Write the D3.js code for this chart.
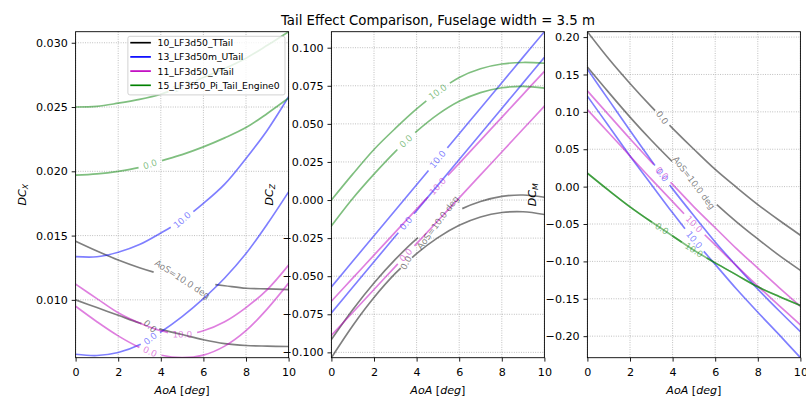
<!DOCTYPE html>
<html>
<head>
<meta charset="utf-8">
<script src="https://cdn.jsdelivr.net/npm/d3@7"></script>
<style>
  body { margin: 0; background: #fff; }
  svg { display: block; }
  text { font-family: "DejaVu Sans", sans-serif; }
</style>
</head>
<body>
<svg id="chart" width="806" height="396"></svg>
<script>
// ---------------- data ----------------
const aoa = [0, 1, 2, 3, 4, 5, 6, 7, 8, 9, 10];
const configs = ["10_LF3d50_TTail", "13_LF3d50m_UTail", "11_LF3d50_VTail", "15_LF3f50_Pi_Tail_Engine0"];
const aosLevels = [0, 10];
const levelLabels = [["0.0", "AoS=10.0 deg"], ["0.0", "10.0"], ["0.0", "10.0"], ["0.0", "10.0"]];
const xTicks = [0, 2, 4, 6, 8, 10];

// DCx
const dcx_TTail_aos0  = [0.0100, 0.0094, 0.0088, 0.0082, 0.0077, 0.0073, 0.0069, 0.0066, 0.00645, 0.0064, 0.00637];
const dcx_TTail_aos10 = [0.01456, 0.0138, 0.0131, 0.0125, 0.0120, 0.0116, 0.0113, 0.0111, 0.0109, 0.01085, 0.0108];
const dcx_UTail_aos0  = [0.00577, 0.00567, 0.0059, 0.0065, 0.0075, 0.0087, 0.0101, 0.0117, 0.0136, 0.0159, 0.0184];
const dcx_UTail_aos10 = [0.01336, 0.01335, 0.0137, 0.0143, 0.0152, 0.0162, 0.0175, 0.0190, 0.0210, 0.0232, 0.0258];
const dcx_VTail_aos0  = [0.0095, 0.0083, 0.0072, 0.0063, 0.0057, 0.0055, 0.0057, 0.0064, 0.0076, 0.0093, 0.0113];
const dcx_VTail_aos10 = [0.01122, 0.0101, 0.0090, 0.0082, 0.0076, 0.0073, 0.0076, 0.0083, 0.0094, 0.0108, 0.0127];
const dcx_PTail_aos0  = [0.0197, 0.0198, 0.0200, 0.0203, 0.0208, 0.0213, 0.0219, 0.0226, 0.0234, 0.0245, 0.0257];
const dcx_PTail_aos10 = [0.0250, 0.02505, 0.0253, 0.0256, 0.0260, 0.0266, 0.0273, 0.0280, 0.0288, 0.0298, 0.03086];

// DCz
const dcz_TTail_aos0  = [-0.1035, -0.0825, -0.0640, -0.0482, -0.0352, -0.0247, -0.0166, -0.0111, -0.0082, -0.0077, -0.0095];
const dcz_TTail_aos10 = [-0.0915, -0.0720, -0.0545, -0.0390, -0.0255, -0.0148, -0.0066, -0.0010, 0.0024, 0.0033, 0.0018];
const dcz_UTail_aos0  = [-0.0741, -0.0573, -0.0405, -0.0238, -0.0070, 0.0098, 0.0266, 0.0434, 0.0601, 0.0769, 0.0937];
const dcz_UTail_aos10 = [-0.0570, -0.0402, -0.0235, -0.0067, 0.0100, 0.0268, 0.0435, 0.0603, 0.0770, 0.0938, 0.1105];
const dcz_VTail_aos0  = [-0.0888, -0.0738, -0.0587, -0.0437, -0.0286, -0.0136, 0.0014, 0.0165, 0.0315, 0.0466, 0.0616];
const dcz_VTail_aos10 = [-0.0664, -0.0513, -0.0362, -0.0211, -0.0060, 0.0091, 0.0241, 0.0392, 0.0543, 0.0694, 0.0845];
const dcz_PTail_aos0  = [-0.0170, 0.0010, 0.0170, 0.0318, 0.0450, 0.0562, 0.0648, 0.0705, 0.0737, 0.0746, 0.0735];
const dcz_PTail_aos10 = [0.0000, 0.0170, 0.0332, 0.0470, 0.0598, 0.0710, 0.0805, 0.0862, 0.0893, 0.0903, 0.0898];

// DCm
const dcm_TTail_aos0  = [0.2072, 0.171, 0.138, 0.107, 0.078, 0.050, 0.023, -0.001, -0.024, -0.045, -0.065];
const dcm_TTail_aos10 = [0.160, 0.126, 0.093, 0.062, 0.033, 0.005, -0.022, -0.047, -0.070, -0.092, -0.112];
const dcm_UTail_aos0  = [0.157, 0.116, 0.075, 0.035, -0.003, -0.039, -0.074, -0.106, -0.137, -0.166, -0.194];
const dcm_UTail_aos10 = [0.121, 0.081, 0.041, 0.003, -0.035, -0.071, -0.104, -0.137, -0.168, -0.198, -0.2288];
const dcm_VTail_aos0  = [0.128, 0.096, 0.064, 0.033, 0.003, -0.027, -0.055, -0.083, -0.109, -0.135, -0.160];
const dcm_VTail_aos10 = [0.103, 0.072, 0.041, 0.010, -0.020, -0.050, -0.078, -0.106, -0.133, -0.159, -0.185];
const dcm_PTail_aos0  = [0.018, -0.005, -0.027, -0.047, -0.066, -0.085, -0.102, -0.118, -0.134, -0.147, -0.159];
const dcm_PTail_aos10 = [0.018, -0.005, -0.027, -0.047, -0.066, -0.085, -0.102, -0.118, -0.134, -0.147, -0.159];

const yTicksDCx = [0.010, 0.015, 0.020, 0.025, 0.030];
const yTicksDCz = [-0.100, -0.075, -0.050, -0.025, 0.000, 0.025, 0.050, 0.075, 0.100];
const yTicksDCm = [-0.20, -0.15, -0.10, -0.05, 0.00, 0.05, 0.10, 0.15, 0.20];

const title = "Tail Effect Comparison, Fuselage width = 3.5 m";

// ---------------- style / layout ----------------
const colors = ["#000000", "#0000ff", "#bf00bf", "#008000"];
const labelAoA = [3.5, 5.0];
const axLefts = [75.6, 331.4, 587.4];
const axW = 213;
const axTop = 31.7, axBottom = 357.7;
const tickFont = 11.1, labelFont = 8.9, legendFont = 9.26;
const LW = 1.67;

const panels = [
  { sub: "X", ticks: yTicksDCx, fmt: d3.format(".3f"),
    series: [[dcx_TTail_aos0, dcx_TTail_aos10], [dcx_UTail_aos0, dcx_UTail_aos10], [dcx_VTail_aos0, dcx_VTail_aos10], [dcx_PTail_aos0, dcx_PTail_aos10]] },
  { sub: "Z", ticks: yTicksDCz, fmt: d3.format(".3f"),
    series: [[dcz_TTail_aos0, dcz_TTail_aos10], [dcz_UTail_aos0, dcz_UTail_aos10], [dcz_VTail_aos0, dcz_VTail_aos10], [dcz_PTail_aos0, dcz_PTail_aos10]] },
  { sub: "M", ticks: yTicksDCm, fmt: d3.format(".2f"),
    series: [[dcm_TTail_aos0, dcm_TTail_aos10], [dcm_UTail_aos0, dcm_UTail_aos10], [dcm_VTail_aos0, dcm_VTail_aos10], [dcm_PTail_aos0, dcm_PTail_aos10]] }
];

const svg = d3.select("#chart");
const defs = svg.append("defs");

function drawCurve(lineG, textG, x, y, yOld, vals, color, text, lx) {
  const line = d3.line().x((d, i) => x(aoa[i])).y(d => y(d)).curve(d3.curveCatmullRom.alpha(0.5));
  const path = lineG.append("path").attr("d", line(vals))
    .attr("fill", "none").attr("stroke", color).attr("stroke-opacity", 0.5)
    .attr("stroke-width", LW);
  const node = path.node();
  const total = node.getTotalLength();
  const pts = [];
  for (let L = 0; L <= total; L += 0.5) {
    const p = node.getPointAtLength(L);
    pts.push({ L: L, x: p.x, y: p.y, oy: yOld(y.invert(p.y)) });
  }
  let acc = 0; pts[0].oL = 0;
  for (let i = 1; i < pts.length; i++) {
    acc += Math.hypot(pts[i].x - pts[i - 1].x, pts[i].oy - pts[i - 1].oy);
    pts[i].oL = acc;
  }
  const cx = x(lx);
  let ci = 0, best = Infinity;
  pts.forEach((p, i) => { const d = Math.abs(p.x - cx); if (d < best) { best = d; ci = i; } });
  const a = pts[Math.max(0, ci - 4)], b = pts[Math.min(pts.length - 1, ci + 4)];
  let ang = Math.atan2(b.oy - a.oy, b.x - a.x) * 180 / Math.PI;
  if (ang > 90) ang -= 180;
  if (ang < -90) ang += 180;
  const t = textG.append("text").text(text)
    .attr("font-size", labelFont).attr("fill", color).attr("fill-opacity", 0.5)
    .attr("text-anchor", "middle").attr("dominant-baseline", "central")
    .attr("transform", `translate(${pts[ci].x},${pts[ci].y}) rotate(${ang})`);
  const w = t.node().getComputedTextLength();
  const half = w / 2 + 5;
  const oc = pts[ci].oL;
  let L1 = 0, L2 = total;
  for (const p of pts) { if (p.oL >= oc - half) { L1 = p.L; break; } }
  for (const p of pts) { if (p.oL >= oc + half) { L2 = p.L; break; } }
  path.attr("stroke-dasharray", `${L1} ${L2 - L1} ${total + 10}`);
}

panels.forEach((p, pi) => {
  const left = axLefts[pi], right = left + axW;
  const x = d3.scaleLinear().domain([0, 10]).range([left, right]);
  const y = d3.scaleLinear().domain(d3.extent(p.series.flat(2))).range([axBottom, axTop]);
  const g = svg.append("g");
  const clipId = "clip" + pi;
  defs.append("clipPath").attr("id", clipId).append("rect")
    .attr("x", left).attr("y", axTop).attr("width", axW).attr("height", axBottom - axTop);

  // grid
  const grid = g.append("g").attr("stroke", "#b0b0b0").attr("stroke-width", 0.89)
    .attr("stroke-dasharray", "0.9,1.47");
  xTicks.forEach(t => grid.append("line").attr("x1", x(t)).attr("x2", x(t)).attr("y1", axTop).attr("y2", axBottom));
  p.ticks.forEach(t => grid.append("line").attr("y1", y(t)).attr("y2", y(t)).attr("x1", left).attr("x2", right));

  // curves
  const lineG = g.append("g").attr("clip-path", `url(#${clipId})`);
  const textG = g.append("g").attr("clip-path", `url(#${clipId})`);
  p.series.forEach((cfg, ci) => {
    const oldVals = p.series.slice(0, ci + 1).flat(2);
    const yOld = d3.scaleLinear().domain(d3.extent(oldVals)).range([axBottom, axTop]);
    cfg.forEach((vals, li) => drawCurve(lineG, textG, x, y, yOld, vals, colors[ci], levelLabels[ci][li], labelAoA[li]));
  });

  // spines
  g.append("rect").attr("x", left).attr("y", axTop).attr("width", axW).attr("height", axBottom - axTop)
    .attr("fill", "none").attr("stroke", "#000").attr("stroke-width", 0.89);

  // x axis
  const xa = g.append("g").attr("transform", `translate(0,${axBottom})`)
    .call(d3.axisBottom(x).tickValues(xTicks).tickSize(3.9).tickPadding(3.9).tickFormat(d3.format("d")));
  xa.select(".domain").remove();
  xa.selectAll("line").attr("stroke-width", 0.89);
  xa.selectAll("text").attr("font-size", tickFont).attr("font-family", "DejaVu Sans").attr("fill", "#000")
    .attr("y", 18.8).attr("dy", 0);

  // y axis
  const ya = g.append("g").attr("transform", `translate(${left},0)`)
    .call(d3.axisLeft(y).tickValues(p.ticks).tickSize(3.9).tickPadding(3.9).tickFormat(p.fmt));
  ya.select(".domain").remove();
  ya.selectAll("line").attr("stroke-width", 0.89);
  ya.selectAll("text").attr("font-size", tickFont).attr("font-family", "DejaVu Sans").attr("fill", "#000");
  let minX = Infinity;
  ya.selectAll("text").each(function () { const bb = this.getBBox(); minX = Math.min(minX, left + bb.x); });

  // x label
  const xl = g.append("text").attr("x", (left + right) / 2).attr("y", 393.5)
    .attr("text-anchor", "middle").attr("font-size", tickFont);
  xl.append("tspan").attr("font-style", "italic").text("AoA");
  xl.append("tspan").text(" [");
  xl.append("tspan").attr("font-style", "italic").text("deg");
  xl.append("tspan").text("]");

  // y label
  const yl = g.append("text").attr("text-anchor", "middle").attr("font-size", tickFont)
    .attr("transform", `translate(${minX - 10},${(axTop + axBottom) / 2}) rotate(-90)`);
  yl.append("tspan").attr("font-style", "italic").text("DC");
  yl.append("tspan").attr("font-style", "italic").attr("font-size", tickFont * 0.7).attr("dy", 2.3).text(p.sub);

  // legend
  if (pi === 0) {
    const lg = g.append("g");
    const texts = [];
    configs.forEach((c, i) => {
      texts.push(lg.append("text").attr("font-size", legendFont).text(c));
    });
    const maxW = d3.max(texts, t => t.node().getComputedTextLength());
    const boxR = right - 3.6, boxT = axTop + 4.6;
    const boxW = 29.7 + maxW + 5.3;
    const boxL = boxR - boxW;
    const rowH = 14.2;
    const boxH = 6.4 + rowH * 3 + 9.6;
    lg.insert("rect", "text").attr("x", boxL).attr("y", boxT).attr("width", boxW).attr("height", boxH)
      .attr("rx", 2).attr("fill", "#fff").attr("fill-opacity", 0.8)
      .attr("stroke", "#cccccc").attr("stroke-width", 0.89);
    configs.forEach((c, i) => {
      const cy = boxT + 6.4 + i * rowH;
      lg.append("line").attr("x1", boxL + 2.4).attr("x2", boxL + 23).attr("y1", cy).attr("y2", cy)
        .attr("stroke", colors[i]).attr("stroke-width", LW);
      texts[i].attr("x", boxL + 29.7).attr("y", cy + 3.4);
    });
  }

  if (pi === 1) {
    svg.append("text").attr("x", (left + right) / 2).attr("y", 25).attr("text-anchor", "middle")
      .attr("font-size", 13.3).text(title);
  }
});
</script>
</body>
</html>
